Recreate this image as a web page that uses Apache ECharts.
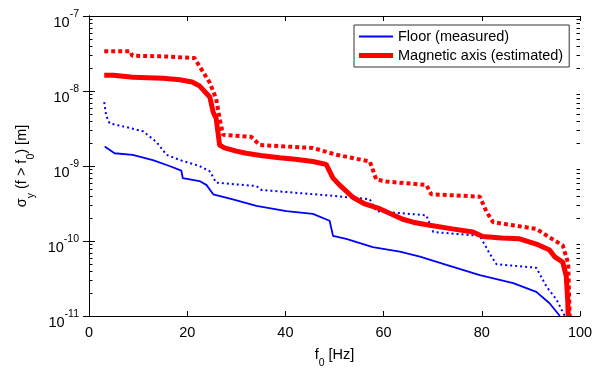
<!DOCTYPE html>
<html>
<head>
<meta charset="utf-8">
<script src="https://cdn.jsdelivr.net/npm/echarts@6/dist/echarts.min.js"></script>
<style>html,body{margin:0;padding:0;background:#fff}#c{width:600px;height:374px}</style>
</head>
<body>
<div id="c"></div>
<script>
// ---- data ----
var floorMeasuredF = [3.2,5.2,8.9,13,16.4,18.8,19.1,22.5,23.9,25.3,29.3,34.1,40.2,45.6,49,49.7,52.4,57.8,63.3,67.4,72.8,79.6,86.4,91.1,93.8,95.9];
var floorMeasuredV = [1.82e-9,1.48e-9,1.41e-9,1.2e-9,1.0e-9,8.7e-10,6.9e-10,6.3e-10,5.6e-10,4.2e-10,3.6e-10,2.95e-10,2.5e-10,2.3e-10,1.86e-10,1.17e-10,1.07e-10,8.3e-11,7.2e-11,6.2e-11,4.8e-11,3.5e-11,2.75e-11,2.1e-11,1.48e-11,1.0e-11];

var floorDottedF = [3.1,3.5,4.2,7.6,11,13.7,15.8,18.5,22.5,24.6,25.9,34.1,35.1,49.7,57.2,58.5,68.7,70.1,79.6,81.6,83,91.1,93.2,95.2,96.9];
var floorDottedV = [7.1e-9,4.7e-9,3.7e-9,3.3e-9,2.9e-9,2.1e-9,1.41e-9,1.2e-9,1.0e-9,8.5e-10,6.0e-10,5.4e-10,4.8e-10,4.0e-10,3.6e-10,2.5e-10,2.2e-10,1.32e-10,1.17e-10,6.8e-11,4.9e-11,4.4e-11,2.45e-11,1.66e-11,1.0e-11];

var magAxisF = [3.1,5,8,9,15,18.5,21,22.5,24.6,25.3,25.9,26.6,27.6,30,32,35,38.8,42,45.6,48.3,49.7,51,53.8,56,59.2,63.9,66,69.4,74,78.2,80.2,84,87.7,91.1,93.8,94.8,96.5,97.2,97.5,97.6];
var magAxisV = [1.62e-8,1.62e-8,1.55e-8,1.52e-8,1.48e-8,1.41e-8,1.32e-8,1.17e-8,8.3e-9,5.2e-9,4.3e-9,1.9e-9,1.74e-9,1.58e-9,1.48e-9,1.38e-9,1.29e-9,1.23e-9,1.15e-9,1.05e-9,6.9e-10,5.6e-10,3.8e-10,3.16e-10,2.7e-10,1.95e-10,1.78e-10,1.62e-10,1.45e-10,1.32e-10,1.15e-10,1.1e-10,1.07e-10,9.1e-11,7.6e-11,6.2e-11,5.2e-11,3.4e-11,1.6e-11,1.0e-11];

var magDottedF = [3.1,8.4,8.8,15,21.5,22.5,24.6,25.9,26.6,27.3,33,34.8,45.6,50.4,57.2,58.5,60.6,68.7,69.7,79.6,80.9,82.3,91.1,93.8,96.5,97.6,97.9];
var magDottedV = [3.4e-8,3.4e-8,2.95e-8,2.9e-8,2.75e-8,2.14e-8,1.29e-8,7.9e-9,4.3e-9,2.6e-9,2.45e-9,1.9e-9,1.74e-9,1.41e-9,1.15e-9,6.6e-10,6.2e-10,5.6e-10,4.2e-10,3.9e-10,2.5e-10,1.78e-10,1.45e-10,1.12e-10,8.7e-11,5.0e-11,1.0e-11];

var xTicks = [0,20,40,60,80,100];
var yDecades = [1e-11,1e-10,1e-9,1e-8,1e-7];
var legendNames = ['Floor (measured)','Magnetic axis (estimated)'];

function pairs(f, v){ return f.map(function(x,i){ return [x, v[i]]; }); }
var minorVals = [];
for (var d = 0; d < yDecades.length - 1; d++) {
  for (var k = 2; k <= 9; k++) minorVals.push([xTicks[0], k * yDecades[d]]);
}

var FONT = 'Liberation Sans, Arial, Helvetica, sans-serif';
var chart = echarts.init(document.getElementById('c'), null, {renderer:'canvas'});

function yLabel(v){
  var e = Math.round(Math.log10(v));
  return '{b|10}{s|' + e + '}';
}

var option = {
  animation: false,
  backgroundColor: '#fff',
  grid: {left: 89, right: 20, top: 16, bottom: 54, containLabel: false},
  legend: {
    data: [
      {name: legendNames[0], icon: 'path://M0,0L34,0L34,2L0,2Z'},
      {name: legendNames[1], icon: 'path://M0,0L34,0L34,5L0,5Z'}
    ],
    symbolKeepAspect: true,
    orient: 'vertical',
    left: 354, top: 25,
    padding: [4, 6, 4, 5],
    itemWidth: 34, itemHeight: 14, itemGap: 4,
    backgroundColor: '#fff',
    borderColor: '#333', borderWidth: 1,
    textStyle: {fontFamily: FONT, fontSize: 14.5, color: '#000'},
    selectedMode: false
  },
  xAxis: [{
    type: 'value', min: xTicks[0], max: xTicks[xTicks.length-1], interval: 20,
    position: 'bottom',
    name: '{n|f}{sub|0}{n| [Hz]}', nameLocation: 'middle', nameGap: 31,
    nameTextStyle: {rich: {
      n: {fontFamily: FONT, fontSize: 14.5, color: '#000', verticalAlign: 'top', lineHeight: 16},
      sub: {fontFamily: FONT, fontSize: 10.5, color: '#000', verticalAlign: 'bottom', lineHeight: 22}
    }},
    axisLine: {show: true, lineStyle: {color: '#000', width: 1}},
    axisTick: {show: true, inside: true, length: 5, lineStyle: {color: '#000'}},
    axisLabel: {fontFamily: FONT, fontSize: 14.5, color: '#000', margin: 9},
    splitLine: {show: false}
  }, {
    type: 'value', min: xTicks[0], max: xTicks[xTicks.length-1], interval: 20,
    position: 'top',
    axisLine: {show: true, lineStyle: {color: '#000', width: 1}},
    axisTick: {show: true, inside: true, length: 5, lineStyle: {color: '#000'}},
    axisLabel: {show: false},
    splitLine: {show: false}
  }],
  yAxis: [{
    type: 'log', logBase: 10, min: yDecades[0], max: yDecades[yDecades.length-1],
    position: 'left',
    name: '{n|σ}{sub|y}{n| (f > f}{sub|0}{n|) [m]}', nameLocation: 'middle', nameGap: 51, nameRotate: 90,
    nameTextStyle: {rich: {
      n: {fontFamily: FONT, fontSize: 14.5, color: '#000', verticalAlign: 'top', lineHeight: 16},
      sub: {fontFamily: FONT, fontSize: 10.5, color: '#000', verticalAlign: 'bottom', lineHeight: 22}
    }},
    axisLine: {show: true, lineStyle: {color: '#000', width: 1}},
    axisTick: {show: true, inside: true, length: 6, lineStyle: {color: '#000'}},
    axisLabel: {
      formatter: yLabel, margin: 10, padding: [7, 0, 0, 0],
      rich: {
        b: {fontFamily: FONT, fontSize: 14.5, color: '#000', verticalAlign: 'bottom', lineHeight: 22},
        s: {fontFamily: FONT, fontSize: 10.5, color: '#000', verticalAlign: 'top', lineHeight: 10}
      }
    },
    splitLine: {show: false}
  }, {
    type: 'log', logBase: 10, min: yDecades[0], max: yDecades[yDecades.length-1],
    position: 'right',
    axisLine: {show: true, lineStyle: {color: '#000', width: 1}},
    axisTick: {show: true, inside: true, length: 6, lineStyle: {color: '#000'}},
    axisLabel: {show: false},
    splitLine: {show: false}
  }],
  series: [{
    name: 'minor ticks', type: 'custom', silent: true, clip: false,
    xAxisIndex: 0, yAxisIndex: 0,
    data: minorVals,
    encode: {x: 0, y: 1},
    renderItem: function(params, api){
      var p = api.coord([api.value(0), api.value(1)]);
      var cs = params.coordSys;
      var y = Math.round(p[1]) + 0.5;
      return {type: 'group', children: [
        {type: 'line', shape: {x1: cs.x, y1: y, x2: cs.x + 3.5, y2: y}, style: {stroke: '#000', lineWidth: 1}},
        {type: 'line', shape: {x1: cs.x + cs.width - 3.5, y1: y, x2: cs.x + cs.width, y2: y}, style: {stroke: '#000', lineWidth: 1}}
      ]};
    },
    z: 5
  }, {
    name: 'Floor dotted', type: 'line', data: pairs(floorDottedF, floorDottedV),
    showSymbol: false, symbol: 'none',
    lineStyle: {color: '#0000ff', width: 2, type: [2, 3]}, z: 3
  }, {
    name: 'Magnetic dotted', type: 'line', data: pairs(magDottedF, magDottedV),
    showSymbol: false, symbol: 'none',
    lineStyle: {color: '#ff0000', width: 4, type: [4, 3]}, z: 3
  }, {
    name: legendNames[0], type: 'line', data: pairs(floorMeasuredF, floorMeasuredV),
    showSymbol: false, symbol: 'none', color: '#0000ff',
    lineStyle: {color: '#0000ff', width: 1.8}, z: 4
  }, {
    name: legendNames[1], type: 'line', data: pairs(magAxisF, magAxisV),
    showSymbol: false, symbol: 'none', color: '#ff0000',
    lineStyle: {color: '#ff0000', width: 5}, z: 4
  }]
};
chart.setOption(option);
</script>
</body>
</html>
